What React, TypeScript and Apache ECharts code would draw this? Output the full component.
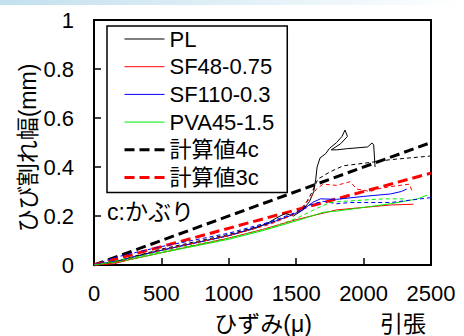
import React, { useEffect, useRef } from "react";
import * as echarts from "echarts";

// strain (µ), crack width (mm)
const xTicks = [0, 500, 1000, 1500, 2000, 2500];
const yTicks = [0, 0.2, 0.4, 0.6, 0.8, 1];

const legendNames = ["PL", "SF48-0.75", "SF110-0.3", "PVA45-1.5", "計算値4c", "計算値3c"];

const plSolid: number[][] = [
  [0, 0], [150, 0.01], [300, 0.035], [500, 0.06], [750, 0.09], [1000, 0.12], [1200, 0.15],
  [1300, 0.175], [1380, 0.2], [1420, 0.21], [1480, 0.2], [1550, 0.225], [1600, 0.26],
  [1630, 0.3], [1645, 0.35], [1655, 0.4], [1677, 0.437], [1720, 0.455], [1745, 0.475],
  [1800, 0.5], [1840, 0.525], [1862, 0.551], [1880, 0.525], [1830, 0.495], [1760, 0.47],
  [1800, 0.47], [1880, 0.475], [1950, 0.478], [2030, 0.482], [2062, 0.498], [2075, 0.49],
  [2085, 0.4],
];
const plDashed: number[][] = [
  [0, 0], [200, 0.02], [500, 0.065], [1000, 0.125], [1300, 0.17], [1450, 0.2], [1550, 0.23],
  [1620, 0.3], [1660, 0.35], [1750, 0.38], [1850, 0.405], [2000, 0.415], [2200, 0.43], [2500, 0.445],
];
const sf48Solid: number[][] = [
  [0, 0], [150, 0.005], [250, 0.02], [500, 0.05], [750, 0.08], [1000, 0.11], [1250, 0.145],
  [1500, 0.185], [1650, 0.205], [1800, 0.225], [2000, 0.235], [2200, 0.245], [2370, 0.248],
];
const sf48Dashed: number[][] = [
  [0, 0], [200, 0.015], [500, 0.06], [1000, 0.12], [1300, 0.165], [1500, 0.21], [1600, 0.27],
  [1650, 0.31], [1700, 0.33], [1800, 0.325], [1900, 0.34], [1950, 0.31], [2050, 0.3],
  [2100, 0.31], [2200, 0.32], [2340, 0.33], [2360, 0.3],
];
const sf110Solid: number[][] = [
  [0, 0], [200, 0.02], [500, 0.06], [1000, 0.12], [1300, 0.17], [1450, 0.2], [1550, 0.225],
  [1620, 0.255], [1680, 0.27], [1800, 0.268], [2000, 0.28], [2200, 0.29], [2280, 0.3], [2320, 0.31],
];
const sf110Dashed: number[][] = [
  [0, 0], [150, 0.03], [300, 0.05], [500, 0.075], [1000, 0.13], [1300, 0.175], [1500, 0.215],
  [1600, 0.245], [1700, 0.26], [1800, 0.25], [1900, 0.255], [2000, 0.255], [2200, 0.255],
  [2350, 0.265], [2500, 0.275],
];
const pvaSolid: number[][] = [
  [0, 0], [200, 0.015], [500, 0.05], [1000, 0.105], [1250, 0.14], [1500, 0.18], [1700, 0.215],
  [1800, 0.22], [2000, 0.235], [2200, 0.25], [2400, 0.27], [2470, 0.285],
];
const pvaDashed: number[][] = [
  [0, 0], [200, 0.02], [500, 0.055], [1000, 0.11], [1300, 0.15], [1500, 0.19], [1650, 0.23],
  [1750, 0.255], [1850, 0.26], [2000, 0.265], [2150, 0.27], [2300, 0.27],
];
const calc4c: number[][] = [[0, 0], [2500, 0.5]];
const calc3c: number[][] = [[0, 0], [2500, 0.375]];

const FONT = "'Liberation Sans', Arial, 'Noto Sans CJK JP', sans-serif";
const GREEN = "#00ee00";

export default function App() {
  const ref = useRef<HTMLDivElement>(null);
  useEffect(() => {
    if (!ref.current) return;
    const chart = echarts.init(ref.current, null, { renderer: "svg" });
    const thin = (name: string, data: number[][], color: string, dashed: boolean) => ({
      name,
      type: "line",
      data,
      symbol: "none",
      lineStyle: { color, width: 1, type: dashed ? [4, 3] : "solid" },
      itemStyle: { color },
      z: 3,
    });
    const thick = (name: string, data: number[][], color: string) => ({
      name,
      type: "line",
      data,
      symbol: "none",
      lineStyle: { color, width: 3, type: [10, 5] },
      itemStyle: { color },
      z: 2,
    });
    chart.setOption({
      animation: false,
      backgroundColor: "#ffffff",
      grid: {
        left: 94, top: 20, right: 33, bottom: 71,
        show: true, borderColor: "#000", borderWidth: 2, backgroundColor: "transparent",
      },
      legend: {
        data: legendNames.map((n, i) => ({
          name: n,
          lineStyle: i < 4 ? { width: 1 } : { width: 3, type: [10, 5] },
        })),
        orient: "vertical",
        left: 107,
        top: 26,
        padding: [2, 13, 4, 16],
        itemGap: 5.7,
        itemWidth: 40,
        itemHeight: 14,
        itemStyle: { opacity: 0 },
        backgroundColor: "#fff",
        borderColor: "#000",
        borderWidth: 1.5,
        borderRadius: 0,
        textStyle: { color: "#000", fontSize: 22, fontFamily: FONT, lineHeight: 22 },
      },
      xAxis: {
        type: "value",
        min: 0, max: 2500, interval: 500,
        axisLine: { show: true, lineStyle: { color: "#000", width: 2 } },
        axisTick: { show: true, inside: true, length: 7, lineStyle: { color: "#000", width: 1.5 } },
        axisLabel: {
          color: "#000", fontSize: 22, fontFamily: FONT, margin: 17,
          formatter: (v: number) => String(v),
        },
        splitLine: { show: false },
      },
      yAxis: {
        type: "value",
        min: 0, max: 1, interval: 0.2,
        axisLine: { show: true, lineStyle: { color: "#000", width: 2 } },
        axisTick: { show: true, inside: true, length: 7, lineStyle: { color: "#000", width: 1.5 } },
        axisLabel: {
          color: "#000", fontSize: 22, fontFamily: FONT, margin: 20,
          formatter: (v: number) => String(v),
        },
        splitLine: { show: false },
      },
      graphic: [
        {
          type: "rect",
          shape: { x: 0, y: 0, width: 464, height: 5 },
          style: {
            fill: new echarts.graphic.LinearGradient(0, 0, 1, 0, [
              { offset: 0, color: "#c2e0ee" },
              { offset: 1, color: "#ffffff" },
            ]),
          },
          z: -1,
        },
        {
          type: "text",
          x: 28, y: 148, rotation: Math.PI / 2,
          style: {
            text: "ひび割れ幅(mm)", font: `23px ${FONT}`, fill: "#000",
            align: "center", verticalAlign: "middle", textAlign: "center", textVerticalAlign: "middle",
          },
        },
        {
          type: "text",
          x: 263, y: 324,
          style: {
            text: "ひずみ(μ)", font: `23px ${FONT}`, fill: "#000",
            align: "center", verticalAlign: "middle", textAlign: "center", textVerticalAlign: "middle",
          },
        },
        {
          type: "text",
          x: 403, y: 324,
          style: {
            text: "引張", font: `23px ${FONT}`, fill: "#000",
            align: "center", verticalAlign: "middle", textAlign: "center", textVerticalAlign: "middle",
          },
        },
        {
          type: "text",
          x: 107, y: 212,
          style: {
            text: "c:かぶり", font: `23px ${FONT}`, fill: "#000",
            align: "left", verticalAlign: "middle", textAlign: "left", textVerticalAlign: "middle",
          },
        },
      ],
      series: [
        thin("PL", plSolid, "#000000", false),
        thin("SF48-0.75", sf48Solid, "#ff0000", false),
        thin("SF110-0.3", sf110Solid, "#0000ff", false),
        thin("PVA45-1.5", pvaSolid, GREEN, false),
        thick("計算値4c", calc4c, "#000000"),
        thick("計算値3c", calc3c, "#ff0000"),
        thin("PL 2", plDashed, "#000000", true),
        thin("SF48-0.75 2", sf48Dashed, "#ff0000", true),
        thin("SF110-0.3 2", sf110Dashed, "#0000ff", true),
        thin("PVA45-1.5 2", pvaDashed, GREEN, true),
      ],
    });
    return () => chart.dispose();
  }, []);
  return (
    <div
      ref={ref}
      style={{ position: "fixed", left: 0, top: 0, width: 464, height: 336, background: "#fff" }}
    />
  );
}
